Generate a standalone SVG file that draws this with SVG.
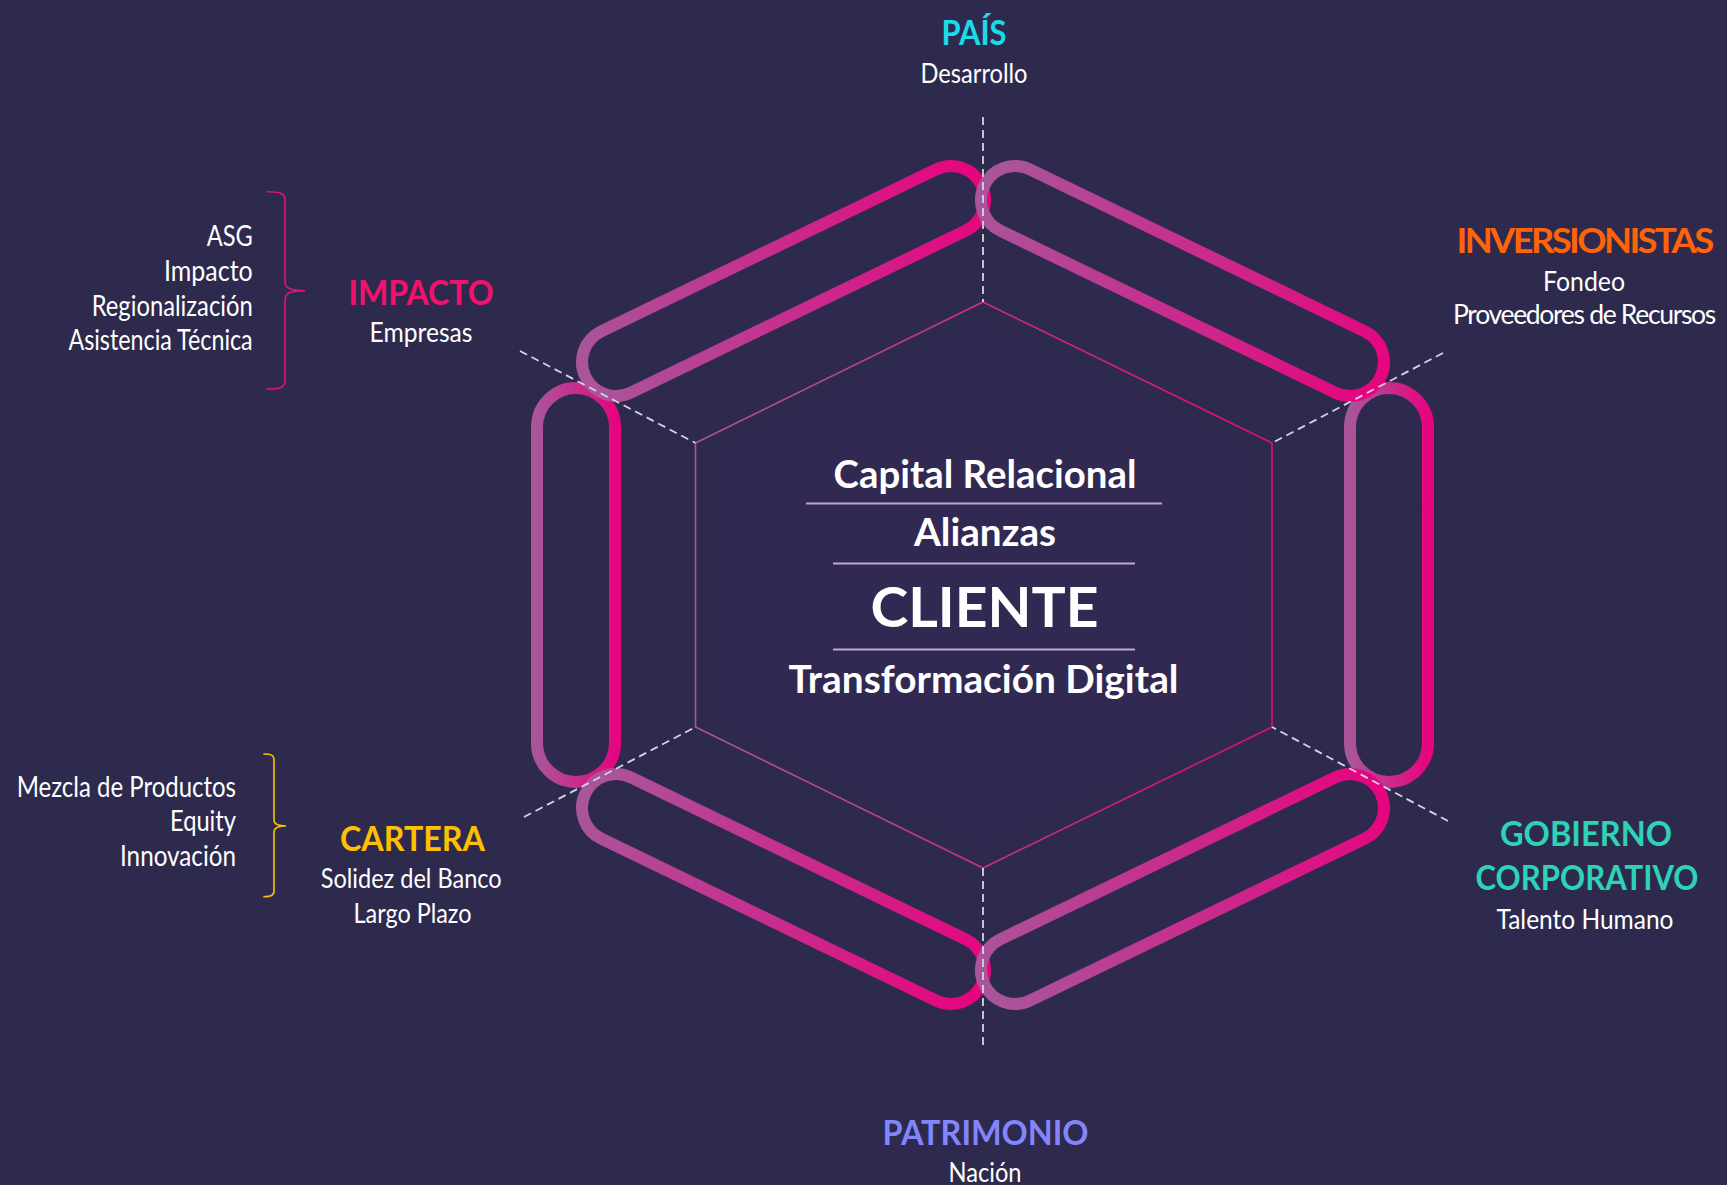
<svg xmlns="http://www.w3.org/2000/svg" width="1727" height="1185" viewBox="0 0 1727 1185">
<defs>
<linearGradient id="pillGrad" x1="0" y1="0" x2="1" y2="0">
<stop offset="0" stop-color="#A9559B"/>
<stop offset="1" stop-color="#E6057F"/>
</linearGradient>
<linearGradient id="hexGrad" gradientUnits="userSpaceOnUse" x1="695" y1="0" x2="1272" y2="0">
<stop offset="0" stop-color="#A9559B"/>
<stop offset="1" stop-color="#E0087F"/>
</linearGradient>
<style>
.pill{fill:none;stroke:url(#pillGrad);stroke-width:12}
.dash{stroke:#D6D4DE;stroke-width:1.8;stroke-dasharray:8 5;fill:none}
.title{font-family:Lato,"Open Sans","Liberation Sans",sans-serif;font-weight:700;font-size:35px;text-anchor:middle}
.sub{font-family:Lato,"Open Sans","Liberation Sans",sans-serif;font-weight:400;font-size:27px;fill:#FFFFFF;text-anchor:middle}
.list{font-family:Lato,"Open Sans","Liberation Sans",sans-serif;font-weight:400;font-size:28px;fill:#FFFFFF;text-anchor:end}
.center{font-family:Lato,"Open Sans","Liberation Sans",sans-serif;font-weight:700;font-size:39px;fill:#FFFFFF;text-anchor:middle}
.big{font-size:56px}
.tight{letter-spacing:-2.5px}
.tight2{letter-spacing:-1.3px;font-size:26px}
.sep{stroke:#BDA9CF;stroke-width:2}
</style>
</defs>
<rect x="0" y="0" width="1727" height="1185" fill="#2E2A4E"/>

<g id="core">
<polygon points="983,326 1240,452 1240,714 983,840 726,714 726,452" fill="#322952" stroke="#322952" stroke-width="8" stroke-linejoin="round"/>
<polygon points="983,302 1272,443 1272,727 983,868 695.5,727 695.5,443" fill="none" stroke="url(#hexGrad)" stroke-width="1.6"/>
</g>

<g id="rings">
<rect class="pill" x="537" y="388" width="78" height="394" rx="39"/>
<rect class="pill" x="1350" y="388" width="78" height="394" rx="39"/>
<rect class="pill" x="-220" y="-34" width="440" height="68" rx="34" transform="translate(783.5,281) rotate(-25.8)"/>
<rect class="pill" x="-220" y="-34" width="440" height="68" rx="34" transform="translate(783.5,889) rotate(25.8)"/>
<rect class="pill" x="-220" y="-34" width="440" height="68" rx="34" transform="translate(1182.5,281) rotate(25.8)"/>
<rect class="pill" x="-220" y="-34" width="440" height="68" rx="34" transform="translate(1182.5,889) rotate(-25.8)"/>
</g>

<g id="connectors">
<line class="dash" x1="983" y1="117" x2="983" y2="302"/>
<line class="dash" x1="983" y1="868" x2="983" y2="1048"/>
<line class="dash" x1="520" y1="351" x2="695.5" y2="443"/>
<line class="dash" x1="1443" y1="353" x2="1272" y2="443"/>
<line class="dash" x1="1448" y1="821" x2="1272" y2="727"/>
<line class="dash" x1="524" y1="817" x2="695.5" y2="727"/>
</g>

<g id="center">
<text class="center" x="985" y="488" textLength="303" lengthAdjust="spacingAndGlyphs">Capital Relacional</text>
<line class="sep" x1="806" y1="503.5" x2="1162" y2="503.5"/>
<text class="center" x="985" y="546" textLength="142" lengthAdjust="spacingAndGlyphs">Alianzas</text>
<line class="sep" x1="833" y1="563.5" x2="1135" y2="563.5"/>
<text class="center big" x="984.5" y="626.5" textLength="228" lengthAdjust="spacingAndGlyphs">CLIENTE</text>
<line class="sep" x1="833" y1="649.5" x2="1135" y2="649.5"/>
<text class="center" x="983.5" y="693" textLength="390" lengthAdjust="spacingAndGlyphs">Transformación Digital</text>
</g>

<g id="pais">
<text class="title" x="974" y="45" fill="#19DCEB" textLength="65" lengthAdjust="spacingAndGlyphs">PAÍS</text>
<text class="sub" x="974" y="82.5" textLength="107" lengthAdjust="spacingAndGlyphs">Desarrollo</text>
</g>

<g id="inversionistas">
<text class="title tight" x="1584" y="252.5" fill="#FF6508" textLength="255" lengthAdjust="spacingAndGlyphs">INVERSIONISTAS</text>
<text class="sub" x="1584" y="290.5" textLength="82" lengthAdjust="spacingAndGlyphs">Fondeo</text>
<text class="sub tight2" x="1584" y="324" textLength="262" lengthAdjust="spacingAndGlyphs">Proveedores de Recursos</text>
</g>

<g id="gobierno">
<text class="title" x="1586" y="846" fill="#2ED3B6" textLength="172" lengthAdjust="spacingAndGlyphs">GOBIERNO</text>
<text class="title" x="1587" y="889.5" fill="#2ED3B6" textLength="223" lengthAdjust="spacingAndGlyphs">CORPORATIVO</text>
<text class="sub" x="1585" y="928.5" textLength="177" lengthAdjust="spacingAndGlyphs">Talento Humano</text>
</g>

<g id="patrimonio">
<text class="title" x="985.5" y="1145" fill="#8385FB" textLength="206" lengthAdjust="spacingAndGlyphs">PATRIMONIO</text>
<text class="sub" x="985" y="1182" textLength="73" lengthAdjust="spacingAndGlyphs">Nación</text>
</g>

<g id="impacto">
<text class="title" x="421" y="305" fill="#F2126E" textLength="145" lengthAdjust="spacingAndGlyphs">IMPACTO</text>
<text class="sub" x="421" y="341.5" textLength="103" lengthAdjust="spacingAndGlyphs">Empresas</text>
</g>

<g id="impacto-list">
<path d="M266.5,191.7 C280,191.7 285,193 285,200 L285,282 C285,288 290,290.7 305,290.7 C290,290.7 285,293 285,300 L285,381 C285,387.5 280,389 266.5,389" fill="none" stroke="#E3156F" stroke-width="1.6"/>
<text class="list" x="252.7" y="246" textLength="46" lengthAdjust="spacingAndGlyphs">ASG</text>
<text class="list" x="252.7" y="280.7" textLength="88.7" lengthAdjust="spacingAndGlyphs">Impacto</text>
<text class="list" x="252.7" y="315.7" textLength="161" lengthAdjust="spacingAndGlyphs">Regionalización</text>
<text class="list" x="252.7" y="350" textLength="184.3" lengthAdjust="spacingAndGlyphs">Asistencia Técnica</text>
</g>

<g id="cartera">
<text class="title" x="412.5" y="851" fill="#FFC000" textLength="145" lengthAdjust="spacingAndGlyphs">CARTERA</text>
<text class="sub" x="411.2" y="888.3" textLength="181" lengthAdjust="spacingAndGlyphs">Solidez del Banco</text>
<text class="sub" x="412.5" y="922.7" textLength="118" lengthAdjust="spacingAndGlyphs">Largo Plazo</text>
</g>

<g id="cartera-list">
<path d="M263.3,754 C271,754 274,755 274,760 L274,820 C274,824 278,826 286,826 C278,826 274,828 274,832 L274,891 C274,895.5 271,896.7 263.3,896.7" fill="none" stroke="#FFC000" stroke-width="1.6"/>
<text class="list" x="236" y="796.7" textLength="219.3" lengthAdjust="spacingAndGlyphs">Mezcla de Productos</text>
<text class="list" x="236" y="830.7" textLength="66" lengthAdjust="spacingAndGlyphs">Equity</text>
<text class="list" x="236" y="866" textLength="116" lengthAdjust="spacingAndGlyphs">Innovación</text>
</g>
</svg>
